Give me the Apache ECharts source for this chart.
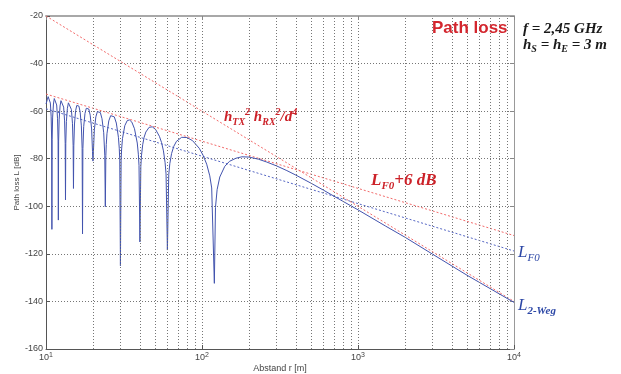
<!DOCTYPE html>
<html>
<head>
<meta charset="utf-8">
<script src="https://cdn.jsdelivr.net/npm/echarts@6/dist/echarts.min.js"></script>
<style>
html,body{margin:0;padding:0;background:#fff;}
#chart{width:621px;height:374px;}
</style>
</head>
<body>
<div id="chart"></div>
<script>
// ---- data ----
var twoRayDist = [
  10, 10.213, 10.32, 10.435, 10.545, 10.667, 10.791, 10.87, 10.909,
  10.949, 11.029, 11.163, 11.299, 11.429, 11.561, 11.707, 11.858, 11.952, 12,
  12.048, 12.146, 12.308, 12.474, 12.632, 12.793, 12.973, 13.158, 13.274, 13.333,
  13.393, 13.514, 13.714, 13.921, 14.118, 14.32, 14.545, 14.778, 14.925, 15,
  15.075, 15.228, 15.484, 15.748, 16, 16.26, 16.552, 16.854, 17.045, 17.143,
  17.241, 17.442, 17.778, 18.127, 18.462, 18.809, 19.2, 19.608, 19.868, 20,
  20.134, 20.408, 20.87, 21.352, 21.818, 22.305, 22.857, 23.438, 23.81, 24,
  24.194, 24.341, 24.59, 25.263, 25.974, 26.667, 27.397, 28.235, 29.126, 29.484, 29.703, 30,
  30.303, 30.534, 30.928, 32, 33.149, 34.286, 35.503, 36.923, 38.462, 39.088, 39.474, 40,
  40.541, 40.956, 41.667, 42.553, 43.636, 45.802, 48, 50.42, 53.333, 55.046, 56.604, 57.971, 58.824, 60,
  61.224, 62.176, 63.83, 65.934, 68.571, 74.074, 80, 86.957, 96, 101.69, 107.14, 112.15, 115.38, 120,
  122, 125, 130, 140, 150, 165, 180, 200, 230, 260, 300, 350, 400,
  500, 600, 800, 1000, 1500, 2000, 3000, 5000, 10000
];
var twoRayLoss = [
  -57, -55, -53.9, -53.4, -54.1, -56.6, -62.4, -71.7, -109.7,
  -71.8, -62.5, -57.0, -54.7, -54.2, -54.9, -57.4, -63.2, -72.5, -105.8,
  -72.6, -63.4, -57.8, -55.6, -55.0, -55.8, -58.3, -64.1, -73.5, -97.3,
  -73.5, -64.3, -58.8, -56.5, -56.0, -56.8, -59.3, -65.1, -74.5, -92.5,
  -74.6, -65.4, -59.8, -57.6, -57.1, -57.9, -60.4, -66.2, -75.6, -111.6,
  -75.7, -66.5, -61.0, -58.8, -58.3, -59.1, -61.7, -67.5, -77.0, -81,
  -77.1, -67.9, -62.4, -60.2, -59.8, -60.6, -63.2, -69.1, -78.5, -100.2,
  -78.7, -74.0, -69.5, -64.1, -61.9, -61.5, -62.4, -65.0, -71.0, -75.6, -80.5, -125,
  -80.6, -75.9, -71.5, -66.1, -64.0, -63.7, -64.6, -67.4, -73.4, -78.1, -82.9, -115,
  -83.2, -78.5, -74.1, -71.0, -68.8, -66.8, -66.6, -67.7, -70.6, -73.2, -76.7, -81.5, -86.4, -118.4,
  -86.7, -82.1, -77.8, -74.8, -72.7, -71.0, -71.1, -72.4, -75.6, -78.6, -82.3, -87.2, -92.3, -132.4,
  -100.5, -93.0, -87.7, -83.2, -81.1, -79.8, -79.2, -79.3, -80.2, -81.4, -83.0, -85.0, -86.9,
  -90.3, -93.2, -97.9, -101.5, -108.3, -113.0, -120.1, -129.0, -140.4
];
var freeSpaceDist = [10, 10000];
var freeSpaceLoss = [-59, -118.8];
var freeSpace6Dist = [10, 10000];
var freeSpace6Loss = [-52.8, -112.3];
var d4Dist = [10, 10000];
var d4Loss = [-20, -140];
var xMinorGrid = [20,30,40,50,60,70,80,90,200,300,400,500,600,700,800,900,2000,3000,4000,5000,6000,7000,8000,9000];
var yTicks = [-160, -140, -120, -100, -80, -60, -40, -20];

function pairs(xs, ys){ return xs.map(function(x,i){ return [x, ys[i]]; }); }

var chart = echarts.init(document.getElementById('chart'), null, {renderer:'canvas'});
var gridCol = '#767676';
var dotted = [1,2];
var sans = '"Liberation Sans", Arial, sans-serif';
var serif = '"Liberation Serif", "Times New Roman", serif';

var option = {
  animation: false,
  backgroundColor: '#fff',
  grid: {left: 46, right: 107, top: 16, bottom: 25, containLabel: false, outerBoundsMode: 'none'},
  xAxis: [{
    type: 'log', logBase: 10, min: 10, max: 10000,
    name: 'Abstand r [m]', nameLocation: 'middle', nameGap: 15, nameMoveOverlap: false,
    nameTextStyle: {fontSize: 9, color: '#444', fontFamily: sans},
    axisLine: {lineStyle: {color: '#555', width: 1}},
    axisTick: {inside: true, length: 4, lineStyle: {color: '#555'}},
    axisLabel: {
      margin: 3, color: '#444', fontFamily: sans,
      formatter: function(v){ return '{b|10}{s|' + Math.round(Math.log10(v)) + '}'; },
      rich: {
        b: {fontSize: 9, lineHeight: 12, color: '#444', fontFamily: sans},
        s: {fontSize: 7, lineHeight: 6, verticalAlign: 'top', color: '#444', fontFamily: sans}
      }
    },
    splitLine: {show: true, lineStyle: {type: dotted, color: gridCol, width: 1}}
  }, {
    type: 'log', logBase: 10, min: 10, max: 10000, position: 'top',
    axisLine: {lineStyle: {color: '#a8a8a8', width: 2}},
    axisTick: {inside: true, length: 4, lineStyle: {color: '#888'}},
    axisLabel: {show: false}, splitLine: {show: false}
  }],
  yAxis: [{
    type: 'value', min: -160, max: -20, interval: 20,
    name: 'Path loss L [dB]', nameLocation: 'middle', nameGap: 25, nameRotate: 90, nameMoveOverlap: false,
    nameTextStyle: {fontSize: 8, color: '#444', fontFamily: sans},
    axisLine: {show: true, lineStyle: {color: '#555', width: 1}},
    axisTick: {show: true, inside: true, length: 4, lineStyle: {color: '#555'}},
    axisLabel: {fontSize: 9, color: '#444', margin: 3, fontFamily: sans,
      formatter: function(v){ return yTicks.indexOf(v) >= 0 ? String(v) : ''; }},
    splitLine: {show: true, lineStyle: {type: dotted, color: gridCol, width: 1}}
  }, {
    type: 'value', min: -160, max: -20, interval: 20, position: 'right',
    axisLine: {show: true, lineStyle: {color: '#999', width: 1}},
    axisTick: {show: true, inside: true, length: 4, lineStyle: {color: '#888'}},
    axisLabel: {show: false}, splitLine: {show: false}
  }],
  series: [{
    name: 'minor grid', type: 'line', data: [], silent: true,
    markLine: {
      silent: true, symbol: ['none','none'], label: {show: false}, animation: false,
      lineStyle: {type: dotted, color: gridCol, width: 1},
      data: xMinorGrid.map(function(v){ return {xAxis: v}; })
    }
  }, {
    name: 'd4', type: 'line', data: pairs(d4Dist, d4Loss), showSymbol: false,
    lineStyle: {color: '#f26a6a', width: 1, type: [2,2]}, z: 3
  }, {
    name: 'LF0+6', type: 'line', data: pairs(freeSpace6Dist, freeSpace6Loss), showSymbol: false,
    lineStyle: {color: '#f26a6a', width: 1, type: [2,2]}, z: 3
  }, {
    name: 'LF0', type: 'line', data: pairs(freeSpaceDist, freeSpaceLoss), showSymbol: false,
    lineStyle: {color: '#5566c4', width: 1, type: [2,2]}, z: 3
  }, {
    name: 'L2', type: 'line', data: pairs(twoRayDist, twoRayLoss), showSymbol: false,
    lineStyle: {color: '#4253ae', width: 1}, z: 4
  }],
  graphic: [
    {type: 'text', left: 432, top: 20, z: 10,
      style: {text: 'Path loss', font: 'bold 17px ' + sans, fill: '#d3262e'}},
    {type: 'text', left: 523, top: 22, z: 10,
      style: {text: 'f = 2,45 GHz', font: 'italic bold 15px ' + serif, fill: '#1a1a1a'}},
    {type: 'text', left: 523, top: 38, z: 10,
      style: {
        text: '{m|h}{sub|S}{m| = h}{sub|E}{m| = 3 m}',
        rich: {
          m: {fontSize: 15, lineHeight: 18, fontStyle: 'italic', fontWeight: 'bold', fontFamily: serif, fill: '#1a1a1a'},
          sub: {fontSize: 10, lineHeight: 8, verticalAlign: 'bottom', fontStyle: 'italic', fontWeight: 'bold', fontFamily: serif, fill: '#1a1a1a'}
        }
      }},
    {type: 'text', left: 224, top: 107, z: 10,
      style: {
        text: '{m|h}{sub|TX}{sup|2}{m| h}{sub|RX}{sup|2}{m|/d}{sup|4}',
        rich: {
          m: {fontSize: 15, lineHeight: 20, fontStyle: 'italic', fontWeight: 'bold', fontFamily: serif, fill: '#cc2229'},
          sub: {fontSize: 10, lineHeight: 8, verticalAlign: 'bottom', fontStyle: 'italic', fontWeight: 'bold', fontFamily: serif, fill: '#cc2229'},
          sup: {fontSize: 10, lineHeight: 6, verticalAlign: 'top', fontStyle: 'italic', fontWeight: 'bold', fontFamily: serif, fill: '#cc2229'}
        }
      }},
    {type: 'text', left: 371, top: 172, z: 10,
      style: {
        text: '{m|L}{sub|F0}{m|+6 dB}',
        rich: {
          m: {fontSize: 17, lineHeight: 22, fontStyle: 'italic', fontWeight: 'bold', fontFamily: serif, fill: '#cc2229'},
          sub: {fontSize: 11, lineHeight: 9, verticalAlign: 'bottom', fontStyle: 'italic', fontWeight: 'bold', fontFamily: serif, fill: '#cc2229'}
        }
      }},
    {type: 'text', left: 518, top: 244, z: 10,
      style: {
        text: '{m|L}{sub|F0}',
        rich: {
          m: {fontSize: 17, lineHeight: 22, fontStyle: 'italic', fontFamily: serif, fill: '#2c47a6'},
          sub: {fontSize: 11, lineHeight: 9, verticalAlign: 'bottom', fontStyle: 'italic', fontFamily: serif, fill: '#2c47a6'}
        }
      }},
    {type: 'text', left: 518, top: 297, z: 10,
      style: {
        text: '{m|L}{sub|2-Weg}',
        rich: {
          m: {fontSize: 17, lineHeight: 22, fontStyle: 'italic', fontFamily: serif, fill: '#2c47a6'},
          sub: {fontSize: 11, lineHeight: 9, verticalAlign: 'bottom', fontStyle: 'italic', fontWeight: 'bold', fontFamily: serif, fill: '#2c47a6'}
        }
      }}
  ]
};
chart.setOption(option);
</script>
</body>
</html>
